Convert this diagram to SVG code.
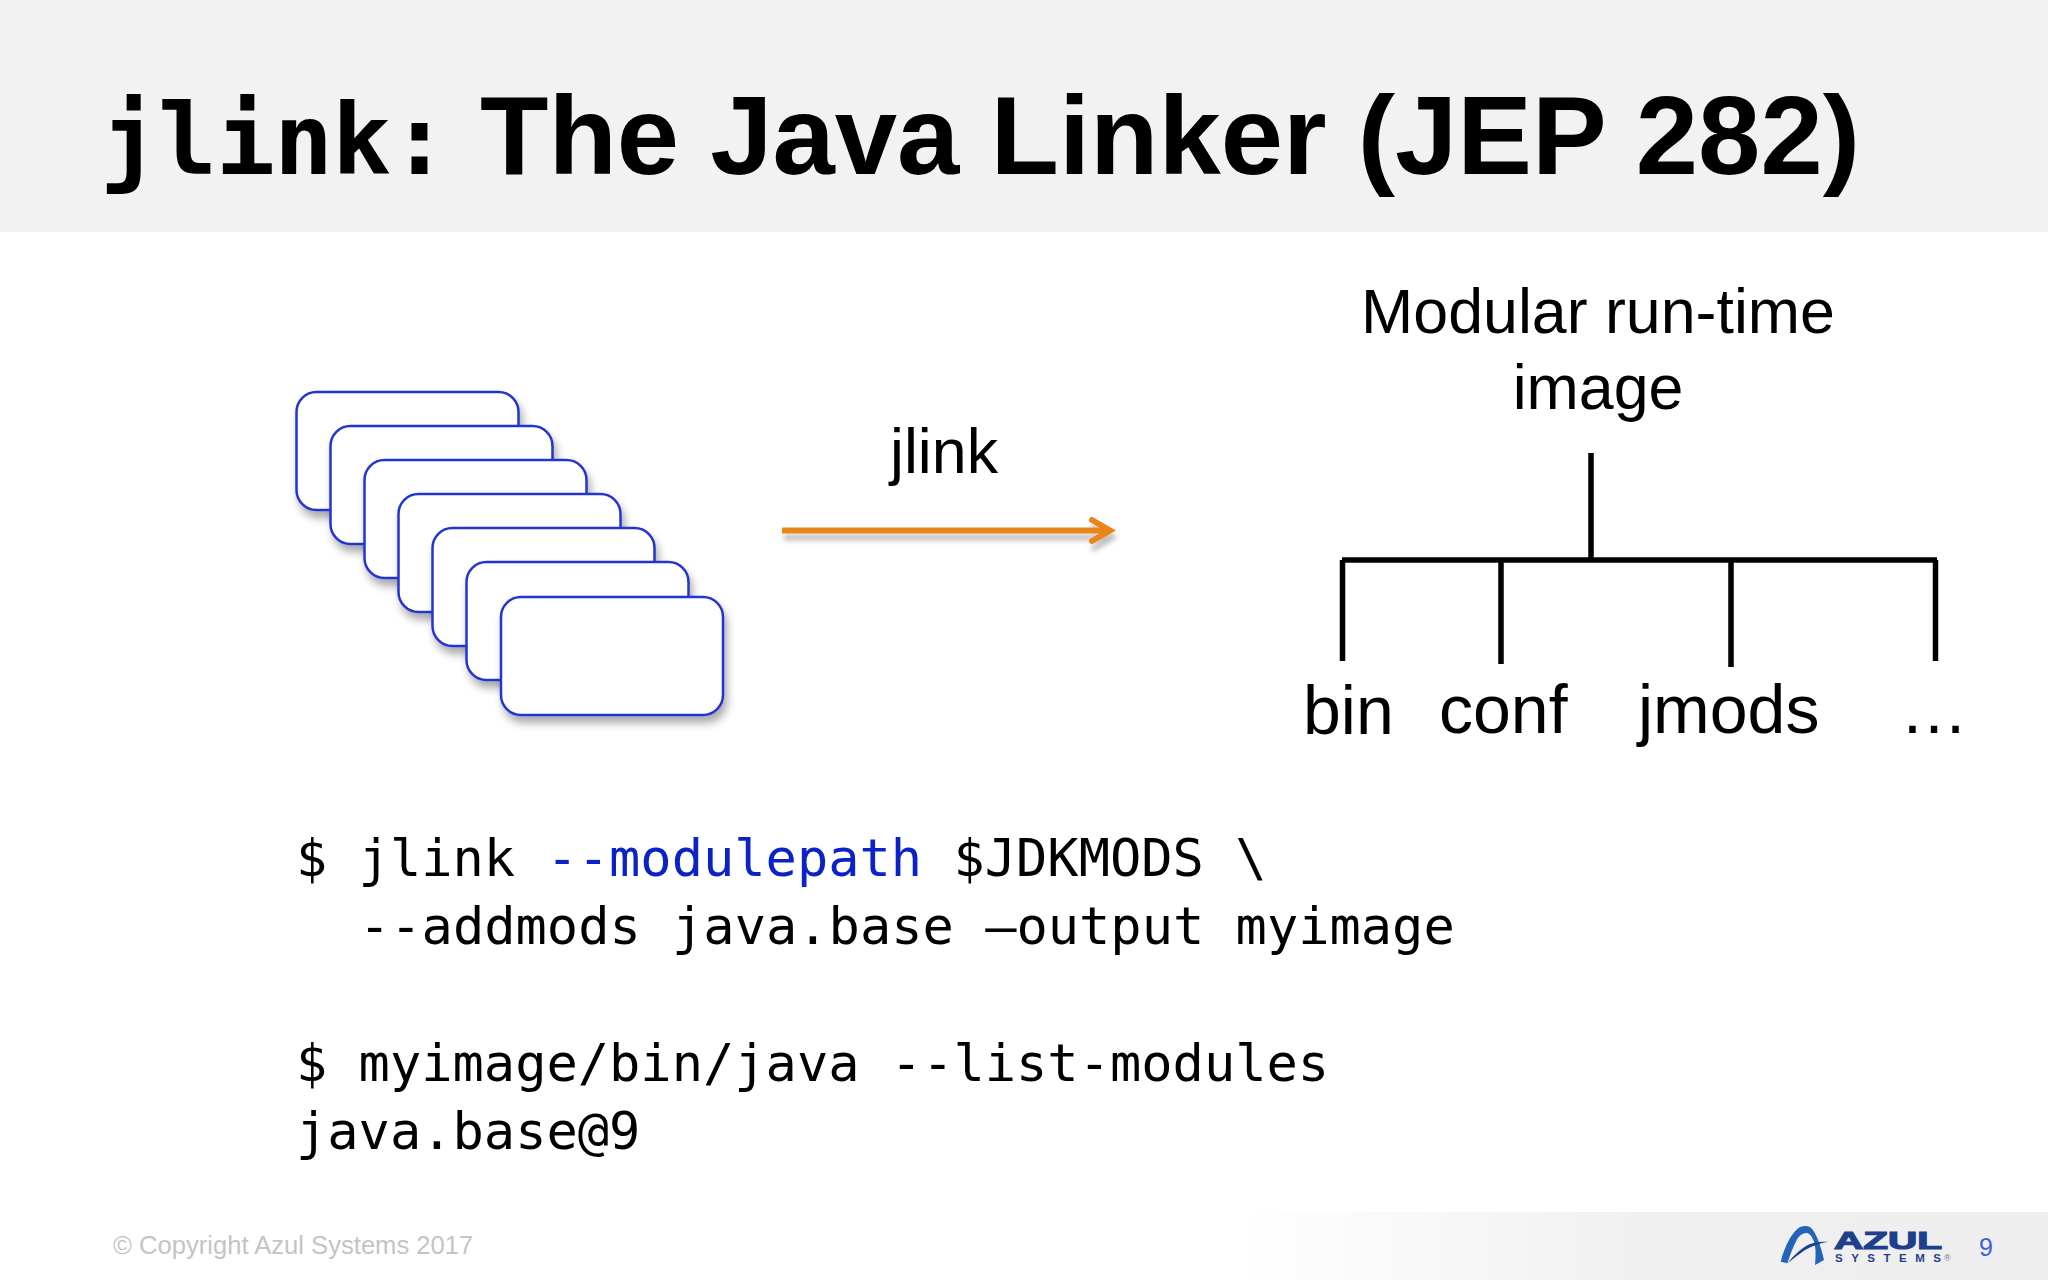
<svg xmlns="http://www.w3.org/2000/svg" width="2048" height="1280" viewBox="0 0 2048 1280">
<style>
.title{font-family:"Liberation Sans",Arial,sans-serif;font-weight:700;font-size:112px;fill:#000}
.titlemono{font-family:"DejaVu Sans Mono",monospace;font-weight:700;font-size:98px;fill:#000}
.lbl{font-family:"Liberation Sans",Arial,sans-serif;font-size:62.700px;fill:#000}
.leaf{font-size:68px}
.code{font-family:"DejaVu Sans Mono",monospace;font-size:52px;fill:#000}
.card{fill:#fff;stroke:#2236d0;stroke-width:2.500;filter:url(#sh)}
.tree{stroke:#000;stroke-width:5.500;fill:none}
.logoT{font-family:"Liberation Sans",Arial,sans-serif;font-weight:700;fill:#1f3f8c}
</style>
<defs>
<filter id="sh" x="-10%" y="-10%" width="125%" height="130%"><feDropShadow dx="3" dy="7" stdDeviation="4" flood-color="#000" flood-opacity="0.33"/></filter>
<filter id="sh2" x="-5%" y="-200%" width="110%" height="500%"><feDropShadow dx="2" dy="7" stdDeviation="2.500" flood-color="#000" flood-opacity="0.25"/></filter>
<linearGradient id="foot" x1="0" x2="1" y1="0" y2="0"><stop offset="0" stop-color="#fff"/><stop offset="0.5" stop-color="#f0f0f0"/><stop offset="1" stop-color="#eeeeee"/></linearGradient>
</defs>
<rect width="2048" height="1280" fill="#fff"/>
<rect id="header" width="2048" height="232" fill="#f2f2f2"/>
<rect id="footer" x="1240" y="1212" width="808" height="68" fill="url(#foot)"/>
<text id="title" y="174"><tspan x="100" class="titlemono" letter-spacing="-1">jlink:</tspan><tspan x="480" class="title">The Java Linker (JEP 282)</tspan></text>
<g id="modules">
<rect id="m1" class="card" x="296.500" y="392" width="222" height="118" rx="20"/>
<rect id="m2" class="card" x="330.500" y="426" width="222" height="118" rx="20"/>
<rect id="m3" class="card" x="364.500" y="460" width="222" height="118" rx="20"/>
<rect id="m4" class="card" x="398.500" y="494" width="222" height="118" rx="20"/>
<rect id="m5" class="card" x="432.500" y="528" width="222" height="118" rx="20"/>
<rect id="m6" class="card" x="466.500" y="562" width="222" height="118" rx="20"/>
<rect id="m7" class="card" x="501" y="597" width="222" height="118" rx="20"/>
</g>
<g id="connectors">
<g id="arrow" filter="url(#sh2)" fill="none" stroke="#e8861a" stroke-width="6"><path d="M782 530.500H1110"/><path d="M1092 520L1110 530.500L1092 541" stroke-linecap="round"/></g>
<g id="tree" class="tree"><path d="M1591 453V559"/><path d="M1342 560H1937"/><path d="M1342.500 560V661"/><path d="M1501 560V664"/><path d="M1731 560V667"/><path d="M1935.500 560V661"/></g>
</g>
<text id="jlink-label" class="lbl" x="890" y="473">jlink</text>
<g id="image-label"><text class="lbl" x="1598" y="333" text-anchor="middle">Modular run-time</text><text class="lbl" x="1598" y="409" text-anchor="middle">image</text></g>
<g id="leaves">
<text class="lbl leaf" x="1303" y="734">bin</text>
<text class="lbl leaf" x="1439" y="733">conf</text>
<text class="lbl leaf" x="1638" y="733">jmods</text>
<text class="lbl leaf" x="1900" y="733">…</text>
</g>
<g id="code">
<text class="code" x="296" y="876">$ jlink <tspan fill="#0a22c8">--modulepath</tspan> $JDKMODS \</text>
<text class="code" x="359" y="944">--addmods java.base –output myimage</text>
<text class="code" x="296" y="1081">$ myimage/bin/java --list-modules</text>
<text class="code" x="296" y="1149">java.base@9</text>
</g>
<text id="copyright" x="113" y="1254" font-family="Liberation Sans, Arial, sans-serif" font-size="25.600" fill="#c4c4c4">© Copyright Azul Systems 2017</text>
<g id="logo">
<path d="M1780.700 1261.700C1785 1245 1792 1232 1800 1227C1804 1225.500 1807 1225.500 1810 1227C1817 1233 1821 1247 1824 1260L1815 1265C1816 1255 1816 1246 1813.300 1240C1811 1235 1809 1233 1806.700 1233C1802 1233 1799 1236 1796.700 1240C1793 1247 1790 1255 1787.300 1263.300Z" fill="#2563b8"/>
<path d="M1787.300 1263.300C1795 1254 1803 1247 1810 1244C1816 1242 1822 1241.500 1828.300 1241.700C1820 1243 1812 1246 1805 1250C1799 1254 1793 1259 1787.300 1263.300Z" fill="#1c3f8f"/>
<text class="logoT" x="1834" y="1249" font-size="24" stroke="#1f3f8c" stroke-width="1.200" textLength="108" lengthAdjust="spacingAndGlyphs">AZUL</text>
<text class="logoT" x="1835" y="1262" font-size="11.500" textLength="106">SYSTEMS</text>
<text x="1944" y="1261" font-family="Liberation Sans, Arial, sans-serif" font-size="9" fill="#777">®</text>
</g>
<text id="page" x="1979" y="1256" font-family="Liberation Sans, Arial, sans-serif" font-size="25" fill="#3c5fe0">9</text>
</svg>
